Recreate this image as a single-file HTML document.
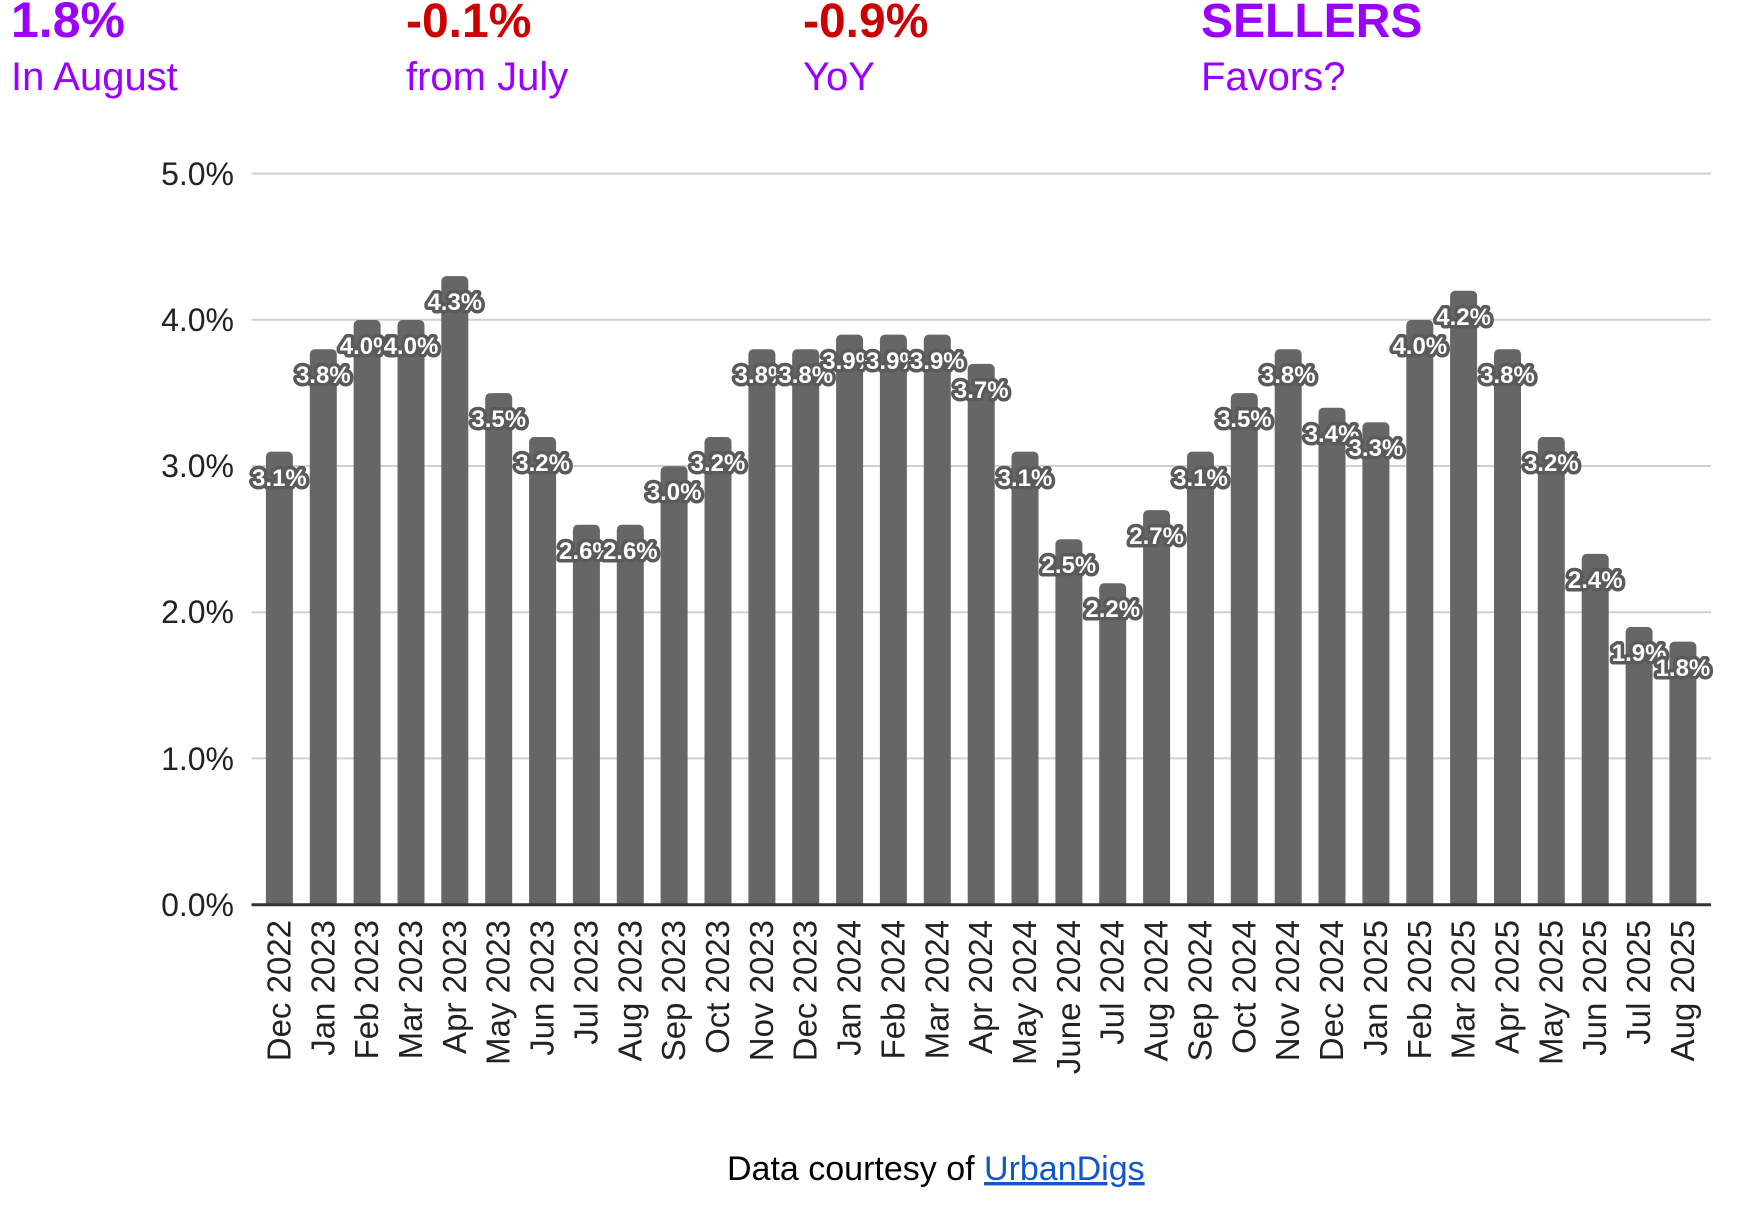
<!DOCTYPE html>
<html><head><meta charset="utf-8"><style>
html,body{margin:0;padding:0;background:#fff;}
svg{display:block;}
</style></head><body>
<svg width="1746" height="1210" xmlns="http://www.w3.org/2000/svg" font-family="Liberation Sans, Arial, sans-serif">
<defs><clipPath id="c"><rect x="0" y="0" width="1746" height="904.8"/></clipPath></defs>
<g font-size="48" font-weight="bold">
<text x="11" y="37" fill="#9900ff" font-size="50">1.8%</text>
<text x="406" y="37" fill="#cc0000">-0.1%</text>
<text x="803" y="37" fill="#cc0000">-0.9%</text>
<text x="1201" y="37" fill="#9900ff">SELLERS</text>
</g>
<g font-size="40" fill="#9900ff">
<text x="11" y="90">In August</text>
<text x="406" y="90">from July</text>
<text x="803" y="90">YoY</text>
<text x="1201" y="90">Favors?</text>
</g>
<g stroke="#d0d0d0" stroke-width="2">
<line x1="251.5" x2="1711" y1="173.6" y2="173.6"/>
<line x1="251.5" x2="1711" y1="319.8" y2="319.8"/>
<line x1="251.5" x2="1711" y1="466" y2="466"/>
<line x1="251.5" x2="1711" y1="612.2" y2="612.2"/>
<line x1="251.5" x2="1711" y1="758.4" y2="758.4"/>
</g>
<g font-size="32" text-anchor="end" fill="#222">
<text x="234" y="185">5.0%</text>
<text x="234" y="331">4.0%</text>
<text x="234" y="477">3.0%</text>
<text x="234" y="623">2.0%</text>
<text x="234" y="770">1.0%</text>
<text x="234" y="916">0.0%</text>
</g>
<g fill="#666" clip-path="url(#c)">
<rect x="265.9" y="451.6" width="27" height="470" rx="5"/>
<rect x="309.8" y="349.2" width="27" height="570" rx="5"/>
<rect x="353.6" y="320" width="27" height="600" rx="5"/>
<rect x="397.5" y="320" width="27" height="600" rx="5"/>
<rect x="441.3" y="276.1" width="27" height="650" rx="5"/>
<rect x="485.2" y="393.1" width="27" height="530" rx="5"/>
<rect x="529.1" y="437" width="27" height="480" rx="5"/>
<rect x="572.9" y="524.7" width="27" height="400" rx="5"/>
<rect x="616.8" y="524.7" width="27" height="400" rx="5"/>
<rect x="660.6" y="466.2" width="27" height="450" rx="5"/>
<rect x="704.5" y="437" width="27" height="480" rx="5"/>
<rect x="748.4" y="349.2" width="27" height="570" rx="5"/>
<rect x="792.2" y="349.2" width="27" height="570" rx="5"/>
<rect x="836.1" y="334.6" width="27" height="590" rx="5"/>
<rect x="879.9" y="334.6" width="27" height="590" rx="5"/>
<rect x="923.8" y="334.6" width="27" height="590" rx="5"/>
<rect x="967.7" y="363.9" width="27" height="560" rx="5"/>
<rect x="1011.5" y="451.6" width="27" height="470" rx="5"/>
<rect x="1055.4" y="539.3" width="27" height="380" rx="5"/>
<rect x="1099.2" y="583.2" width="27" height="330" rx="5"/>
<rect x="1143.1" y="510.1" width="27" height="410" rx="5"/>
<rect x="1187" y="451.6" width="27" height="470" rx="5"/>
<rect x="1230.8" y="393.1" width="27" height="530" rx="5"/>
<rect x="1274.7" y="349.2" width="27" height="570" rx="5"/>
<rect x="1318.5" y="407.7" width="27" height="510" rx="5"/>
<rect x="1362.4" y="422.3" width="27" height="500" rx="5"/>
<rect x="1406.3" y="320" width="27" height="600" rx="5"/>
<rect x="1450.1" y="290.8" width="27" height="630" rx="5"/>
<rect x="1494" y="349.2" width="27" height="570" rx="5"/>
<rect x="1537.8" y="437" width="27" height="480" rx="5"/>
<rect x="1581.7" y="553.9" width="27" height="360" rx="5"/>
<rect x="1625.6" y="627" width="27" height="290" rx="5"/>
<rect x="1669.4" y="641.6" width="27" height="270" rx="5"/>
</g>
<line x1="251.5" x2="1711" y1="904.8" y2="904.8" stroke="#333" stroke-width="3"/>
<g font-size="24" font-weight="bold" text-anchor="middle" fill="#fff" stroke="#5a5a5a" stroke-width="7" stroke-linejoin="round" paint-order="stroke">
<text x="279.4" y="486">3.1%</text>
<text x="323.3" y="383">3.8%</text>
<text x="367.1" y="354">4.0%</text>
<text x="411" y="354">4.0%</text>
<text x="454.8" y="310">4.3%</text>
<text x="498.7" y="427">3.5%</text>
<text x="542.6" y="471">3.2%</text>
<text x="586.4" y="559">2.6%</text>
<text x="630.3" y="559">2.6%</text>
<text x="674.1" y="500">3.0%</text>
<text x="718" y="471">3.2%</text>
<text x="761.9" y="383">3.8%</text>
<text x="805.7" y="383">3.8%</text>
<text x="849.6" y="369">3.9%</text>
<text x="893.4" y="369">3.9%</text>
<text x="937.3" y="369">3.9%</text>
<text x="981.2" y="398">3.7%</text>
<text x="1025" y="486">3.1%</text>
<text x="1068.9" y="573">2.5%</text>
<text x="1112.7" y="617">2.2%</text>
<text x="1156.6" y="544">2.7%</text>
<text x="1200.5" y="486">3.1%</text>
<text x="1244.3" y="427">3.5%</text>
<text x="1288.2" y="383">3.8%</text>
<text x="1332" y="442">3.4%</text>
<text x="1375.9" y="456">3.3%</text>
<text x="1419.8" y="354">4.0%</text>
<text x="1463.6" y="325">4.2%</text>
<text x="1507.5" y="383">3.8%</text>
<text x="1551.3" y="471">3.2%</text>
<text x="1595.2" y="588">2.4%</text>
<text x="1639.1" y="661">1.9%</text>
<text x="1682.9" y="676">1.8%</text>
</g>
<g font-size="33" text-anchor="end" fill="#222">
<text transform="translate(290.4,920) rotate(-90)">Dec 2022</text>
<text transform="translate(334.3,920) rotate(-90)">Jan 2023</text>
<text transform="translate(378.1,920) rotate(-90)">Feb 2023</text>
<text transform="translate(422,920) rotate(-90)">Mar 2023</text>
<text transform="translate(465.8,920) rotate(-90)">Apr 2023</text>
<text transform="translate(509.7,920) rotate(-90)">May 2023</text>
<text transform="translate(553.6,920) rotate(-90)">Jun 2023</text>
<text transform="translate(597.4,920) rotate(-90)">Jul 2023</text>
<text transform="translate(641.3,920) rotate(-90)">Aug 2023</text>
<text transform="translate(685.1,920) rotate(-90)">Sep 2023</text>
<text transform="translate(729,920) rotate(-90)">Oct 2023</text>
<text transform="translate(772.9,920) rotate(-90)">Nov 2023</text>
<text transform="translate(816.7,920) rotate(-90)">Dec 2023</text>
<text transform="translate(860.6,920) rotate(-90)">Jan 2024</text>
<text transform="translate(904.4,920) rotate(-90)">Feb 2024</text>
<text transform="translate(948.3,920) rotate(-90)">Mar 2024</text>
<text transform="translate(992.2,920) rotate(-90)">Apr 2024</text>
<text transform="translate(1036,920) rotate(-90)">May 2024</text>
<text transform="translate(1079.9,920) rotate(-90)">June 2024</text>
<text transform="translate(1123.7,920) rotate(-90)">Jul 2024</text>
<text transform="translate(1167.6,920) rotate(-90)">Aug 2024</text>
<text transform="translate(1211.5,920) rotate(-90)">Sep 2024</text>
<text transform="translate(1255.3,920) rotate(-90)">Oct 2024</text>
<text transform="translate(1299.2,920) rotate(-90)">Nov 2024</text>
<text transform="translate(1343,920) rotate(-90)">Dec 2024</text>
<text transform="translate(1386.9,920) rotate(-90)">Jan 2025</text>
<text transform="translate(1430.8,920) rotate(-90)">Feb 2025</text>
<text transform="translate(1474.6,920) rotate(-90)">Mar 2025</text>
<text transform="translate(1518.5,920) rotate(-90)">Apr 2025</text>
<text transform="translate(1562.3,920) rotate(-90)">May 2025</text>
<text transform="translate(1606.2,920) rotate(-90)">Jun 2025</text>
<text transform="translate(1650.1,920) rotate(-90)">Jul 2025</text>
<text transform="translate(1693.9,920) rotate(-90)">Aug 2025</text>
</g>
<text x="727" y="1180" font-size="34" fill="#000">Data courtesy of <tspan fill="#1155cc" text-decoration="underline">UrbanDigs</tspan></text>
</svg>
</body></html>
